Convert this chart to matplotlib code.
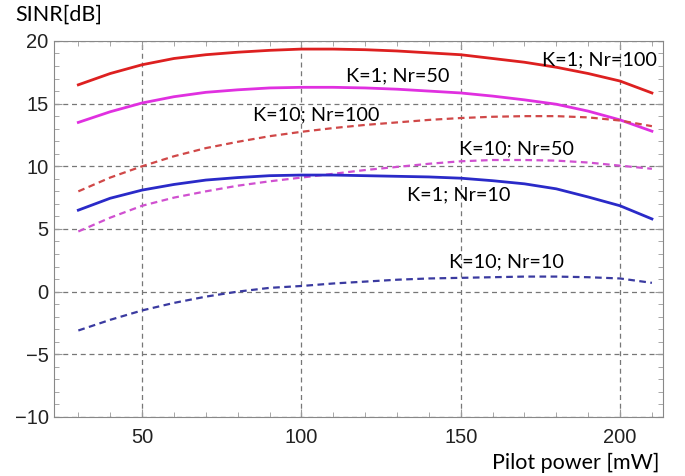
import numpy as np
import matplotlib.pyplot as plt
from matplotlib.ticker import MultipleLocator

# pilot power [mW]
power = [30, 40, 50, 60, 70, 80, 90, 100, 110, 120, 130, 140, 150, 160, 170, 180, 190, 200, 210]

# SINR [dB]
k1_nr100 = [16.5, 17.4, 18.1, 18.6, 18.9, 19.1, 19.25, 19.35, 19.35, 19.3, 19.2, 19.05, 18.9, 18.6, 18.3, 17.9, 17.4, 16.8, 15.85]
k1_nr50 = [13.5, 14.35, 15.05, 15.55, 15.9, 16.1, 16.25, 16.3, 16.3, 16.25, 16.15, 16.0, 15.85, 15.6, 15.3, 14.95, 14.4, 13.7, 12.8]
k10_nr100 = [8.0, 9.1, 10.0, 10.8, 11.45, 11.95, 12.4, 12.75, 13.05, 13.3, 13.5, 13.7, 13.85, 13.95, 14.0, 14.0, 13.9, 13.65, 13.2]
k10_nr50 = [4.8, 5.9, 6.85, 7.5, 8.0, 8.45, 8.8, 9.1, 9.4, 9.7, 9.95, 10.2, 10.4, 10.5, 10.5, 10.45, 10.3, 10.05, 9.8]
k1_nr10 = [6.5, 7.45, 8.1, 8.55, 8.9, 9.1, 9.25, 9.3, 9.3, 9.25, 9.2, 9.15, 9.05, 8.85, 8.6, 8.2, 7.55, 6.85, 5.8]
k10_nr10 = [-3.1, -2.25, -1.5, -0.9, -0.4, 0.0, 0.3, 0.45, 0.65, 0.8, 0.95, 1.05, 1.1, 1.15, 1.2, 1.2, 1.15, 1.05, 0.7]

labels = ['K=1; Nr=100', 'K=1; Nr=50', 'K=10; Nr=100', 'K=10; Nr=50', 'K=1; Nr=10', 'K=10; Nr=10']
label_pos = [(193.4, 18.5), (130.2, 17.2), (104.6, 14.1), (167.6, 11.35), (149.5, 7.7), (164.4, 2.35)]

fig = plt.figure(figsize=(6.85, 4.76), dpi=100)
ax = fig.add_axes([0.079, 0.124, 0.889, 0.79])

red = '#dd2020'
mag = '#e030e0'
blue = '#2a2ac8'
navy = '#3a3aa0'

ax.plot(power, k1_nr100, color=red, lw=2)
ax.plot(power, k1_nr50, color=mag, lw=2)
ax.plot(power, k10_nr100, color='#d04848', lw=1.6, ls=(0, (3, 2)))
ax.plot(power, k10_nr50, color='#d050d0', lw=1.6, ls=(0, (3, 2)))
ax.plot(power, k1_nr10, color=blue, lw=2)
ax.plot(power, k10_nr10, color=navy, lw=1.6, ls=(0, (3, 2)))

for lab, (x, y) in zip(labels, label_pos):
    ax.text(x, y, lab, ha='center', va='center', fontsize=14.3, family='Lato')

ax.set_xlim(22.4, 213.5)
ax.set_ylim(-10, 20)
ax.set_xticks([50, 100, 150, 200])
ax.set_yticks([-10, -5, 0, 5, 10, 15, 20])
ax.set_yticklabels(['\u221210', '\u22125', '0', '5', '10', '15', '20'])
ax.xaxis.set_minor_locator(MultipleLocator(10))
ax.yaxis.set_minor_locator(MultipleLocator(1))
ax.tick_params(which='both', direction='in', top=True, right=True, color='#999999',
               labelsize=14.5, labelcolor='#222222')
ax.tick_params(which='major', length=6)
ax.tick_params(which='minor', length=3.5)
for lab in ax.get_xticklabels() + ax.get_yticklabels():
    lab.set_family('Liberation Sans')
ax.tick_params(axis='x', pad=8)
ax.tick_params(axis='y', pad=4)
for s in ax.spines.values():
    s.set_color('#888888')
ax.grid(True, which='major', color='#777777', ls=(0, (4, 3)), lw=0.9)

fig.text(15 / 685, 1 - 15 / 476, 'SINR[dB]', ha='left', va='center', fontsize=15.5, family='Lato')
fig.text(660 / 685, 1 - 463 / 476, 'Pilot power [mW]', ha='right', va='center', fontsize=15.5, family='Lato')

fig.savefig('out.png', dpi=100)
